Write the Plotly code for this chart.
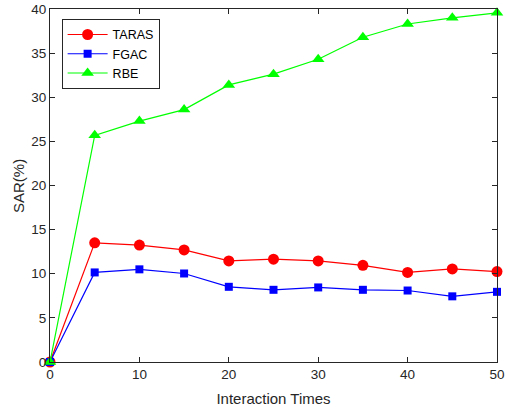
import plotly.graph_objects as go

interaction_times = [0, 5, 10, 15, 20, 25, 30, 35, 40, 45, 50]
taras = [0, 13.5, 13.25, 12.7, 11.45, 11.65, 11.45, 10.95, 10.15, 10.55, 10.25]
fgac = [0, 10.15, 10.5, 10.03, 8.52, 8.18, 8.45, 8.18, 8.1, 7.44, 7.95]
rbe = [0, 25.68, 27.3, 28.6, 31.4, 32.62, 34.3, 36.8, 38.3, 39.0, 39.57]

x_ticks = [0, 10, 20, 30, 40, 50]
y_ticks = [0, 5, 10, 15, 20, 25, 30, 35, 40]

font_family = "Liberation Sans, Arial, sans-serif"

fig = go.Figure()
series = [
    ("TARAS", taras, "#ff0000", "circle", 11),
    ("FGAC", fgac, "#0000ff", "square", 8),
    ("RBE", rbe, "#00ff00", "triangle-up", 11),
]
for name, values, color, symbol, size in series:
    fig.add_trace(go.Scatter(
        x=interaction_times, y=values, name=name, mode="lines+markers",
        line=dict(color=color, width=1.2),
        marker=dict(symbol=symbol, size=size, color=color, line=dict(width=0)),
        cliponaxis=False,
    ))

axis_common = dict(
    showgrid=False, zeroline=False, showline=True, linecolor="#262626",
    linewidth=1, mirror="allticks", ticks="inside", ticklen=5,
    tickcolor="#262626", automargin=False,
    tickfont=dict(size=13.5, color="#262626", family=font_family),
)

fig.update_layout(
    width=505, height=407,
    margin=dict(l=50, r=8, t=9, b=45),
    paper_bgcolor="white", plot_bgcolor="white",
    font=dict(family=font_family, color="#262626"),
    xaxis=dict(range=[0, 50], tickvals=x_ticks,
               title=dict(text="Interaction Times", font=dict(size=15)),
               **axis_common),
    yaxis=dict(range=[0, 40], tickvals=y_ticks, **axis_common),
    legend=dict(x=0.026, y=0.972, xanchor="left", yanchor="top",
                bordercolor="#262626", borderwidth=1, bgcolor="white",
                font=dict(size=12.5, color="#000000"), itemwidth=40,
                tracegroupgap=0),
    showlegend=True,
    annotations=[dict(
        text="SAR(%)", textangle=-90, xref="paper", yref="paper",
        x=-0.0705, y=0.5, xanchor="center", yanchor="middle",
        showarrow=False, font=dict(size=15, color="#262626", family=font_family),
    )],
)

fig.write_html("out.html")
